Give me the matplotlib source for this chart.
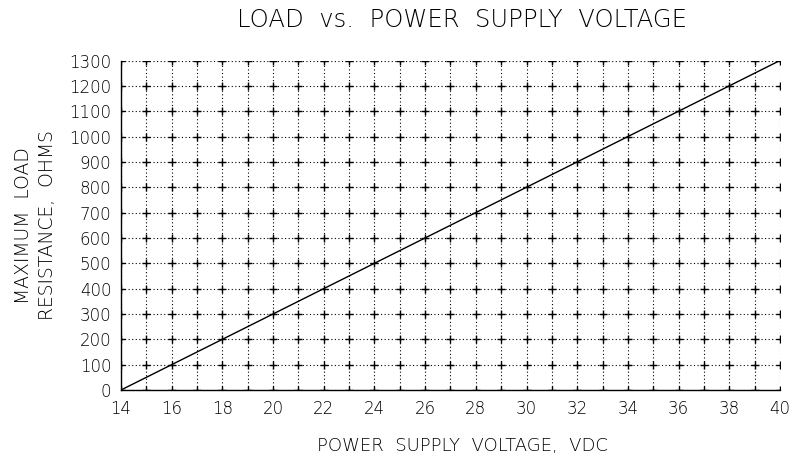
import matplotlib
matplotlib.use("Agg")
import matplotlib.pyplot as plt
import numpy as np

# data
voltage = [14, 40]
load = [0, 1300]

x_ticks = list(range(14, 41, 2))
x_grid = list(range(14, 41, 1))
y_ticks = list(range(0, 1301, 100))

plt.rcParams['font.family'] = ['DejaVu Sans']
plt.rcParams['font.weight'] = 'light'

fig = plt.figure(figsize=(7.92, 4.63), dpi=100)
ax = fig.add_axes([0.1528, 0.1577, 0.9848 - 0.1528, 0.8693 - 0.1577])

# dotted grid
for x in x_grid:
    ax.axvline(x, color='black', ls=(0, (1, 2.2)), lw=0.8, zorder=1)
for y in y_ticks:
    ax.axhline(y, color='black', ls=(0, (1, 2.2)), lw=0.8, zorder=1)

# + marks at every intersection
gx, gy = np.meshgrid(x_grid, y_ticks)
ax.plot(gx.ravel(), gy.ravel(), '+', color='black', ms=6, mew=1.0, zorder=2)

ax.plot(voltage, load, color='black', lw=1.0, zorder=3)

ax.set_xlim(14, 40)
ax.set_ylim(0, 1300)
ax.set_xticks(x_ticks)
ax.set_yticks(y_ticks)
ax.tick_params(length=0, labelsize=12, pad=7)
for lbl in ax.get_xticklabels() + ax.get_yticklabels():
    lbl.set_fontweight('light')
for side in ('top', 'right'):
    ax.spines[side].set_visible(False)
for side in ('left', 'bottom'):
    ax.spines[side].set_linewidth(1.0)

ax.set_title("LOAD  vs.  POWER  SUPPLY  VOLTAGE", fontsize=17.5, pad=24,
             fontweight='light', x=0.518)
ax.set_xlabel("POWER  SUPPLY  VOLTAGE,  VDC", fontsize=13, labelpad=14,
              fontweight='light')
ax.xaxis.label.set_x(0.518)
ax.set_ylabel("MAXIMUM  LOAD\nRESISTANCE,  OHMS", fontsize=13.5, labelpad=9,
              linespacing=1.3, fontweight='light')

fig.savefig("out.png", dpi=100)
